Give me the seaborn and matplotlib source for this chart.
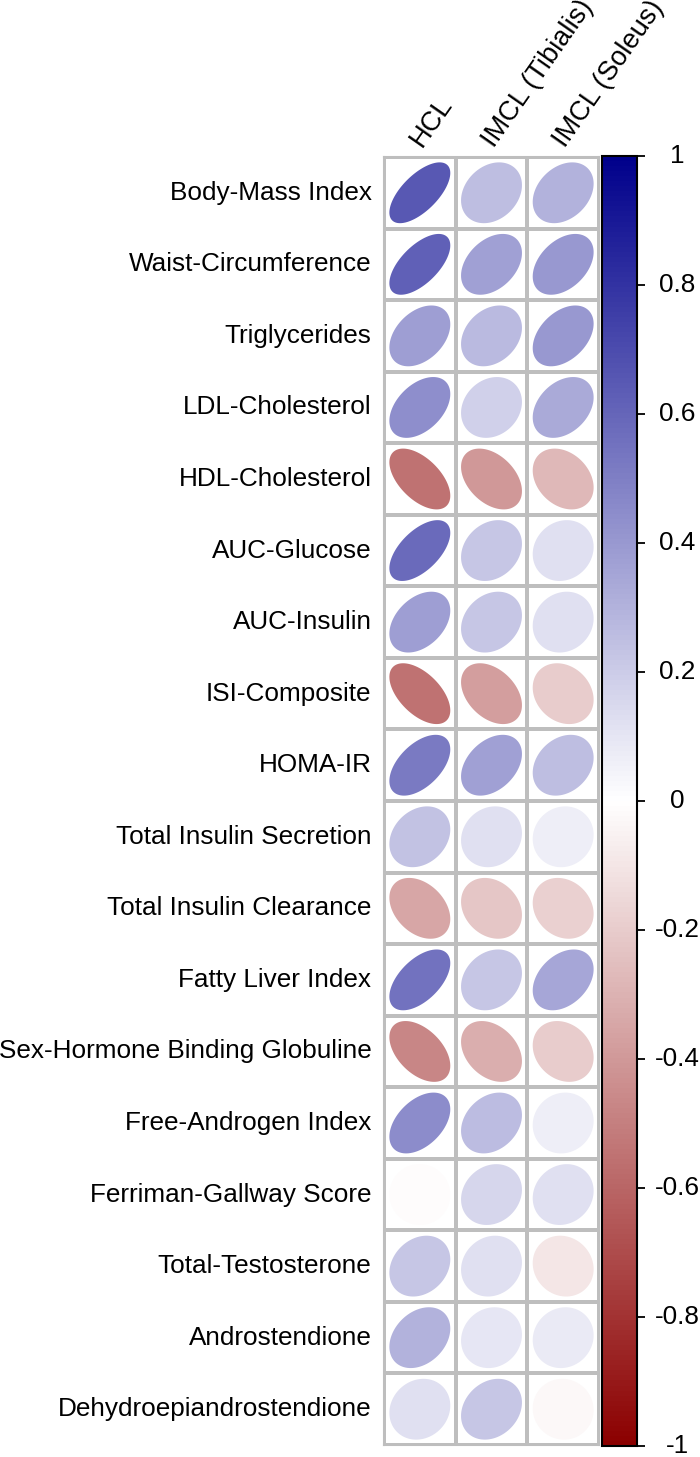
import numpy as np
import pandas as pd
import matplotlib
matplotlib.use("Agg")
import matplotlib.pyplot as plt
import seaborn as sns
from matplotlib.colors import LinearSegmentedColormap, ListedColormap, Normalize
from matplotlib.cm import ScalarMappable

variables = ["Body-Mass Index", "Waist-Circumference", "Triglycerides", "LDL-Cholesterol",
             "HDL-Cholesterol", "AUC-Glucose", "AUC-Insulin", "ISI-Composite", "HOMA-IR",
             "Total Insulin Secretion", "Total Insulin Clearance", "Fatty Liver Index",
             "Sex-Hormone Binding Globuline", "Free-Androgen Index", "Ferriman-Gallway Score",
             "Total-Testosterone", "Androstendione", "Dehydroepiandrostendione"]
columns = ["HCL", "IMCL (Tibialis)", "IMCL (Soleus)"]
hcl = [0.65, 0.62, 0.38, 0.44, -0.55, 0.58, 0.38, -0.55, 0.52, 0.24, -0.35, 0.55,
       -0.47, 0.45, -0.01, 0.22, 0.30, 0.12]
imcl_tibialis = [0.25, 0.37, 0.27, 0.18, -0.40, 0.22, 0.22, -0.38, 0.37, 0.12, -0.22, 0.22,
                 -0.32, 0.26, 0.16, 0.12, 0.10, 0.22]
imcl_soleus = [0.30, 0.40, 0.40, 0.33, -0.28, 0.12, 0.12, -0.20, 0.25, 0.07, -0.18, 0.35,
               -0.20, 0.07, 0.12, -0.10, 0.08, -0.03]
cbar_ticks = [1, 0.8, 0.6, 0.4, 0.2, 0, -0.2, -0.4, -0.6, -0.8, -1]

df = pd.DataFrame({columns[0]: hcl, columns[1]: imcl_tibialis, columns[2]: imcl_soleus},
                  index=variables)

sns.set_style("white")
plt.rcParams["font.family"] = ["Liberation Sans", "DejaVu Sans"]
plt.rcParams["text.color"] = "black"
plt.rcParams["xtick.color"] = "black"
plt.rcParams["ytick.color"] = "black"
plt.rcParams["axes.labelcolor"] = "black"

FS = 18.8

W, H = 700, 1457
fig = plt.figure(figsize=(W / 100, H / 100), dpi=100)
gx0, gx1, gy0, gy1 = 384, 599, 157, 1445
ax = fig.add_axes([gx0 / W, 1 - gy1 / H, (gx1 - gx0) / W, (gy1 - gy0) / H])

sns.heatmap(np.zeros(df.shape), cmap=ListedColormap(["white"]), cbar=False,
            linewidths=1.5, linecolor="#BEBEBE", ax=ax,
            xticklabels=False, yticklabels=variables)
for s in ax.spines.values():
    s.set_visible(True)
    s.set_color("#BEBEBE")
    s.set_linewidth(1.5)

cmap = LinearSegmentedColormap.from_list("corr", ["#8B0000", "white", "#00008B"])
norm = Normalize(-1, 1)

t = np.linspace(0, 2 * np.pi, 99)
for j, col in enumerate(columns):
    for i, r in enumerate(df[col].values):
        a = np.arccos(r)
        x = j + 0.5 + 0.85 * np.cos(t + a / 2) / 2
        y = i + 0.5 - 0.85 * np.cos(t - a / 2) / 2
        ax.fill(x, y, color=cmap(norm(r)), lw=0, zorder=3)

ax.tick_params(axis="y", length=0, pad=9, labelsize=FS, rotation=0, labelcolor="black")
for lab in ax.get_yticklabels():
    lab.set_rotation(0)
    lab.set_color("black")
for j, col in enumerate(columns):
    ax.text(j + 0.53, -0.12, col, rotation=55, rotation_mode="anchor",
            ha="left", va="baseline", fontsize=19.5, color="black", clip_on=False)

cax = fig.add_axes([602 / W, 1 - 1446 / H, 35 / W, (1446 - 156) / H])
cb = fig.colorbar(ScalarMappable(norm=norm, cmap=cmap), cax=cax, ticks=cbar_ticks)
cb.outline.set_edgecolor("black")
cb.outline.set_linewidth(1.5)
cax.tick_params(axis="y", direction="out", length=6, width=1.3, color="black",
                labelright=False)
ytr = cax.get_yaxis_transform()
for v in cbar_ticks:
    lab = "%g" % v
    cax.text(2.15, v, lab, transform=ytr, ha="center", va="center", fontsize=FS,
             color="black")

fig.savefig("out.png", dpi=100)
